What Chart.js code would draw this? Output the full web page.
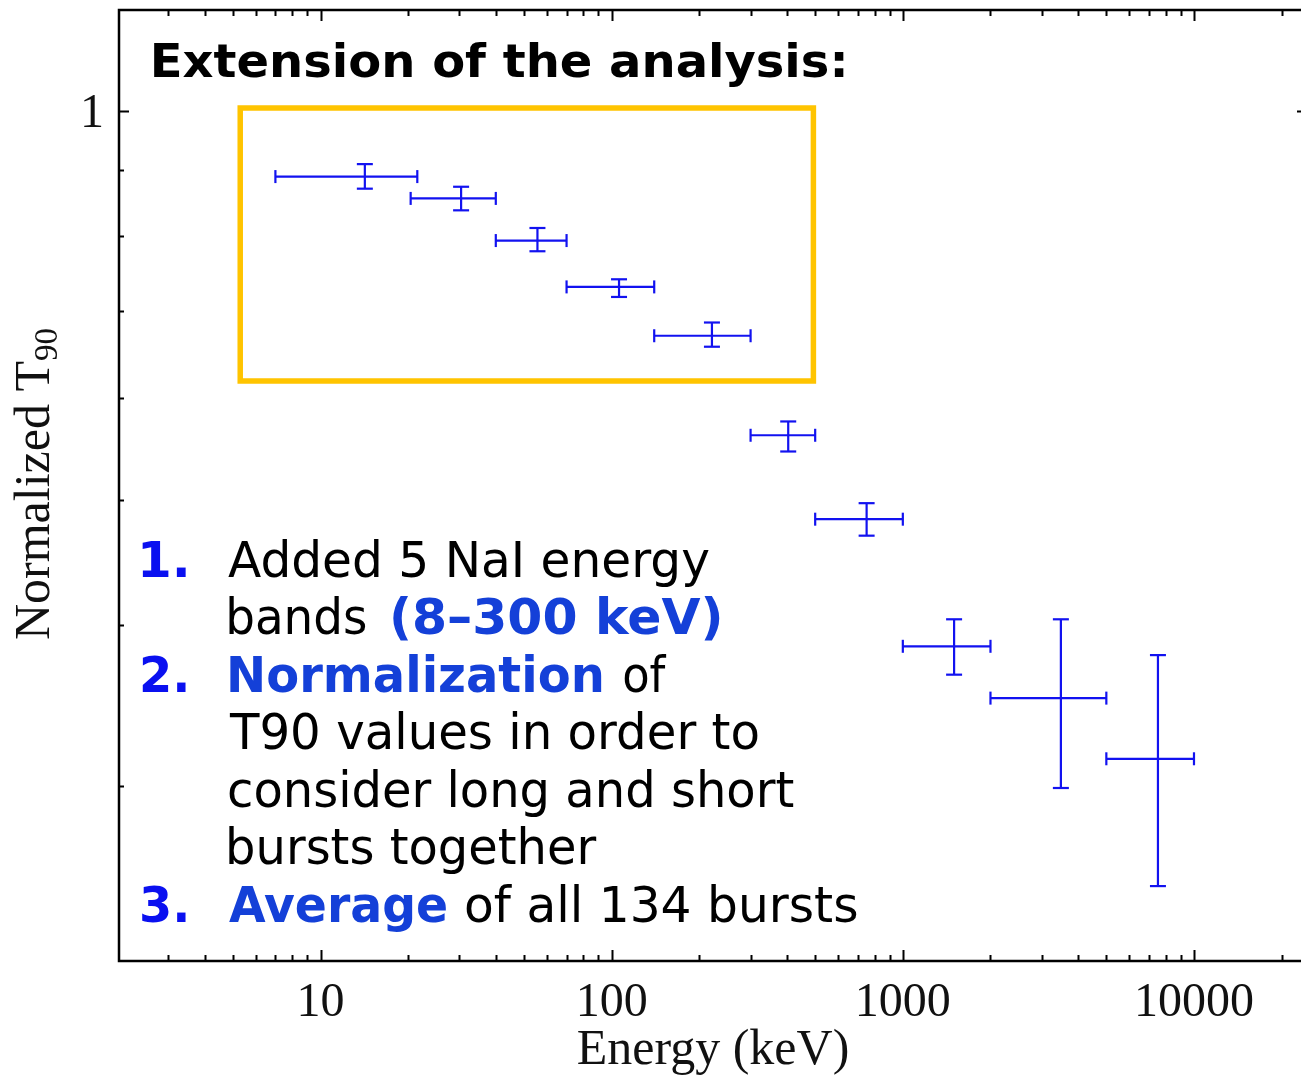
<!DOCTYPE html>
<html>
<head>
  <meta charset="utf-8">
  <title>Normalized T90 x Energy</title>
  <script src="https://cdn.jsdelivr.net/npm/chart.js@4"></script>
  <style>
    html, body { margin: 0; padding: 0; background: #fff; overflow: hidden; }
    canvas { display: block; }
  </style>
</head>
<body>
  <canvas id="t90Chart" width="1301" height="1076"></canvas>

  <script>
    // energy bands (keV): centre and edges
    const energy = [14.2, 30.4, 55.6, 106, 221, 404, 751, 1500, 3490, 7520];
    const energyLow = [7, 20.4, 40, 70, 140, 300, 500, 1000, 2000, 5000];
    const energyHigh = [21.5, 40, 70, 140, 300, 500, 1000, 2000, 5000, 10000];

    // normalized T90 and its error range
    const t90 = [0.890, 0.856, 0.794, 0.731, 0.670, 0.561, 0.483, 0.385, 0.351, 0.315];
    const t90Low = [0.871, 0.838, 0.779, 0.718, 0.657, 0.545, 0.469, 0.366, 0.299, 0.251];
    const t90High = [0.910, 0.874, 0.812, 0.741, 0.686, 0.575, 0.497, 0.404, 0.404, 0.379];

    // labelled ticks
    const xTickLabels = [10, 100, 1000, 10000];
    const yTickLabels = [1];

    // box around the NaI bands
    const boxEnergy = [5.3, 493];
    const boxT90 = [0.618, 1.006];

    const blue = '#1212f0';
    const ctx = document.getElementById('t90Chart').getContext('2d');

    // one dataset per error bar, caps drawn with the 'line' point style
    const datasets = [];
    for (let i = 0; i < energy.length; i++) {
      const common = {
        showLine: true,
        borderColor: blue,
        borderWidth: 2.2,
        pointStyle: 'line',
        pointBorderColor: blue,
        pointBorderWidth: 2.2,
        fill: false,
      };
      datasets.push(Object.assign({
        data: [{ x: energyLow[i], y: t90[i] }, { x: energyHigh[i], y: t90[i] }],
        pointRotation: 90,
        pointRadius: 6.5,
      }, common));
      datasets.push(Object.assign({
        data: [{ x: energy[i], y: t90Low[i] }, { x: energy[i], y: t90High[i] }],
        pointRotation: 0,
        pointRadius: 8,
      }, common));
    }
    datasets.push({
      data: [
        { x: boxEnergy[0], y: boxT90[0] }, { x: boxEnergy[1], y: boxT90[0] },
        { x: boxEnergy[1], y: boxT90[1] }, { x: boxEnergy[0], y: boxT90[1] },
        { x: boxEnergy[0], y: boxT90[0] },
      ],
      showLine: true,
      borderColor: '#ffc400',
      borderWidth: 5.5,
      borderCapStyle: 'square',
      borderJoinStyle: 'miter',
      pointRadius: 0,
      fill: false,
    });

    // text written over the plot: [text, left, right, baseline, weight, colour, size]
    const notes = [
      ['Extension of the analysis:', 154, 844, 77, 'bold', '#000', 46],
      ['1.', 142, 186, 577, 'bold', '#0a10f0', 49],
      ['Added 5 NaI energy', 228, 709, 577, 'normal', '#000', 49],
      ['bands', 229, 366, 634, 'normal', '#000', 49],
      ['(8\u2013300 keV)', 393, 720, 634, 'bold', '#1440d8', 49],
      ['2.', 142, 186, 692, 'bold', '#0a10f0', 49],
      ['Normalization', 230, 602, 692, 'bold', '#1440d8', 49],
      ['of', 624, 667, 692, 'normal', '#000', 49],
      ['T90 values in order to', 229, 758, 749, 'normal', '#000', 49],
      ['consider long and short', 229, 794, 807, 'normal', '#000', 49],
      ['bursts together', 229, 597, 864, 'normal', '#000', 49],
      ['3.', 142, 186, 922, 'bold', '#0a10f0', 49],
      ['Average', 229, 446, 922, 'bold', '#1440d8', 49],
      ['of all 134 bursts', 466, 857, 922, 'normal', '#000', 49],
    ];

    // squeeze or stretch a run of text so its ink spans x0..x1
    function fitText(c, txt, x0, x1, base, weight, colour, size) {
      c.save();
      c.font = weight + ' ' + size + 'px "DejaVu Sans"';
      c.textAlign = 'left';
      c.textBaseline = 'alphabetic';
      const m = c.measureText(txt);
      const ink = m.actualBoundingBoxLeft + m.actualBoundingBoxRight;
      const k = (x1 - x0) / ink;
      c.translate(x0 + m.actualBoundingBoxLeft * k, base);
      c.scale(k, 1);
      c.fillStyle = colour;
      c.fillText(txt, 0, 0);
      c.restore();
    }

    // frame with inward ticks, tick labels and titles;
    // the right-hand axis sits just past the canvas edge, so only its long ticks show
    const frame = {
      id: 'frame',
      afterDraw(chart) {
        const c = chart.ctx;
        const a = chart.chartArea;
        const x = chart.scales.x;
        const y = chart.scales.y;
        const rightAxis = a.right + 6;
        c.save();
        c.strokeStyle = '#000';
        c.lineWidth = 2.5;
        c.beginPath();
        c.moveTo(rightAxis, a.top);
        c.lineTo(a.left, a.top);
        c.lineTo(a.left, a.bottom);
        c.lineTo(rightAxis, a.bottom);
        c.stroke();

        c.lineWidth = 2;
        c.beginPath();
        for (let d = 0; d <= 4; d++) {
          for (let m = 1; m <= 9; m++) {
            const v = m * Math.pow(10, d);
            if (v < x.min || v > x.max) continue;
            const len = m === 1 ? 11 : 6;
            const px = Math.round(x.getPixelForValue(v)) + 0.5;
            c.moveTo(px, a.bottom); c.lineTo(px, a.bottom - len);
            c.moveTo(px, a.top); c.lineTo(px, a.top + len);
          }
        }
        for (let d = -1; d <= 0; d++) {
          for (let m = 1; m <= 9; m++) {
            const v = m * Math.pow(10, d);
            if (v < y.min || v > y.max) continue;
            const len = m === 1 ? 10 : 5;
            const py = Math.round(y.getPixelForValue(v)) + 0.5;
            c.moveTo(a.left, py); c.lineTo(a.left + len, py);
            c.moveTo(rightAxis, py); c.lineTo(rightAxis - len, py);
          }
        }
        c.stroke();

        c.fillStyle = '#111';
        c.font = '48px "Liberation Serif"';
        c.textAlign = 'center';
        c.textBaseline = 'alphabetic';
        xTickLabels.forEach(v => c.fillText(String(v), x.getPixelForValue(v), 1016));
        c.textAlign = 'right';
        yTickLabels.forEach(v => c.fillText(String(v), 104, y.getPixelForValue(v) + 16));

        c.font = '50px "Liberation Serif"';
        c.textAlign = 'center';
        c.fillText('Energy (keV)', 713, 1064);

        // rotated y title with subscript
        c.save();
        c.translate(49, 484);
        c.rotate(-Math.PI / 2);
        c.font = '50px "Liberation Serif"';
        const main = 'Normalized T';
        const wMain = c.measureText(main).width;
        c.font = '33px "Liberation Serif"';
        const wSub = c.measureText('90').width;
        const start = -(wMain + wSub) / 2;
        c.textAlign = 'left';
        c.font = '50px "Liberation Serif"';
        c.fillText(main, start, 0);
        c.font = '33px "Liberation Serif"';
        c.fillText('90', start + wMain, 8);
        c.restore();

        notes.forEach(n => fitText(c, n[0], n[1], n[2], n[3], n[4], n[5], n[6]));
        c.restore();
      }
    };

    const t90Chart = new Chart(ctx, {
      type: 'scatter',
      data: { datasets: datasets },
      options: {
        responsive: false,
        animation: false,
        events: [],
        layout: {
          autoPadding: false,
          padding: { left: 119, right: 0, top: 10, bottom: 115 },
        },
        plugins: { legend: { display: false }, tooltip: { enabled: false } },
        scales: {
          x: { type: 'logarithmic', min: 2.032, max: 23310, display: false },
          y: { type: 'logarithmic', min: 0.2196, max: 1.198, display: false },
        },
      },
      plugins: [frame],
    });
  </script>
</body>
</html>
